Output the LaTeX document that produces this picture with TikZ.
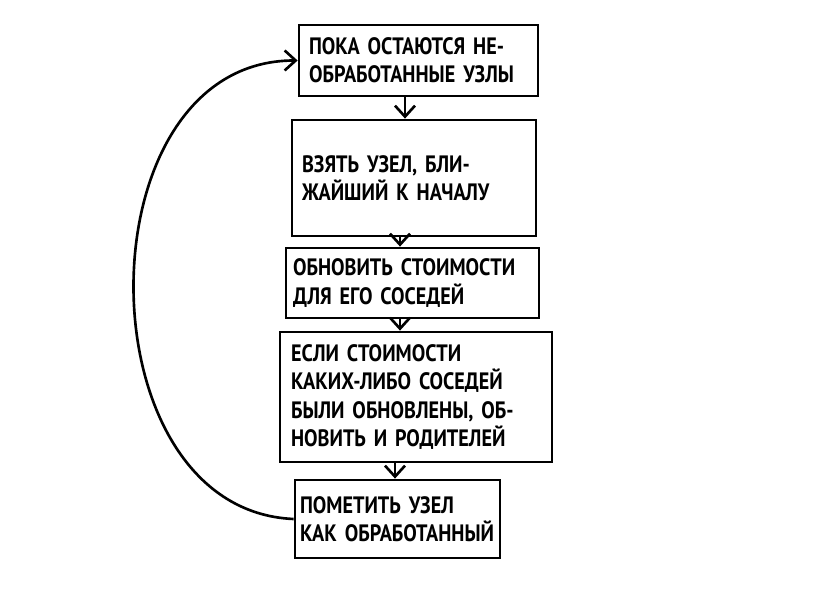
\documentclass[tikz,border=0pt]{standalone}
\usepackage{fontspec}
\setmainfont{PT Sans}[FakeStretch=0.85]
\usepackage{tikz}
\usetikzlibrary{arrows.meta,positioning}

\begin{document}
\begin{tikzpicture}
            [
            x=0.02cm, y=-0.02cm,
            stepbox/.style={draw,line width=1.6pt,align=left,inner xsep=0.2cm,
                font=\fontsize{13.5}{16}\selectfont\bfseries},
            edge/.style={line width=1.5pt,-{Straight Barb[length=2.2mm,width=4mm]}}
            ]
        \useasboundingbox[fill=white] (0,0) rectangle (840,592);
        \node[stepbox,minimum width=4.78cm,minimum height=1.42cm,text width=4.38cm,inner xsep=0.2cm] (b1) at (418.5,60.5)
            {ПОКА ОСТАЮТСЯ НЕ-\\ОБРАБОТАННЫЕ УЗЛЫ};
        \node[stepbox,minimum width=4.88cm,minimum height=2.32cm,text width=4.48cm] (b2) at (414,178)
            {ВЗЯТЬ УЗЕЛ, БЛИ-\\ЖАЙШИЙ К НАЧАЛУ};
        \node[stepbox,minimum width=5.06cm,minimum height=1.4cm,text width=4.78cm,inner xsep=0.14cm] (b3) at (412.5,283)
            {ОБНОВИТЬ СТОИМОСТИ\\ДЛЯ ЕГО СОСЕДЕЙ};
        \node[stepbox,minimum width=5.44cm,minimum height=2.6cm,text width=5.0cm,inner xsep=0.22cm] (b4) at (416,397)
            {ЕСЛИ СТОИМОСТИ\\КАКИХ-ЛИБО СОСЕДЕЙ\\БЫЛИ ОБНОВЛЕНЫ, ОБ-\\НОВИТЬ И РОДИТЕЛЕЙ};
        \node[stepbox,minimum width=4.1cm,minimum height=1.56cm,text width=3.9cm,inner xsep=0.1cm] (b5) at (397.5,519)
            {ПОМЕТИТЬ УЗЕЛ\\КАК ОБРАБОТАННЫЙ};
        \draw[edge] ([xshift=-0.27cm]b1.south) -- ([xshift=-0.27cm]b1.south |- b2.north);
        \draw[edge] ([xshift=-0.28cm]b2.south) -- ([xshift=-0.28cm]b2.south |- b3.north);
        \draw[edge] ([xshift=-0.25cm]b3.south) -- ([xshift=-0.25cm]b3.south |- b4.north);
        \draw[edge] ([xshift=-0.42cm]b4.south) -- ([xshift=-0.42cm]b4.south |- b5.north);
        \draw[edge] (b5.west) .. controls (80,510) and (80,60) .. (b1.west);
        \end{tikzpicture}
\end{document}
